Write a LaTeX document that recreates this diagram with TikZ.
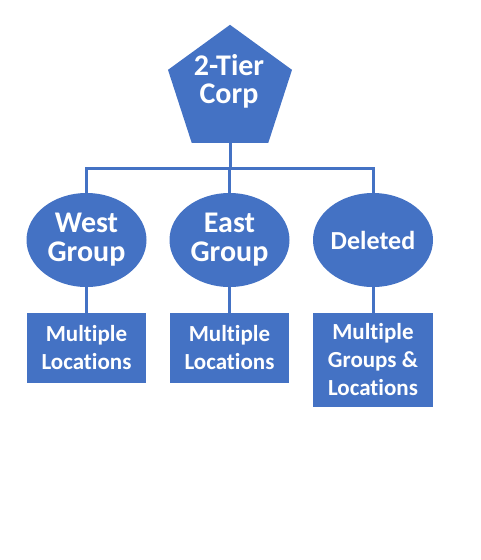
\documentclass[tikz,border=0pt]{standalone}
\usepackage{fontspec}
\setmainfont[Ligatures={NoCommon}]{Carlito}
\usetikzlibrary{shapes.geometric}
\definecolor{obl}{HTML}{4472C4}
\tikzset{
  conn/.style={draw=obl, line width=3pt},
  txt/.style={text=white, font=\bfseries, align=center, inner sep=0pt},
  grp/.style={ellipse, fill=obl, minimum width=120pt, minimum height=94pt, inner sep=0pt, txt},
  loc/.style={rectangle, fill=obl, minimum width=119pt, inner sep=0pt, txt,
    font=\fontsize{23pt}{28pt}\selectfont\bfseries},
  big/.style={font=\fontsize{30pt}{29pt}\selectfont\bfseries}
}
\begin{document}
\begin{tikzpicture}[x=1pt,y=-1pt]
\useasboundingbox (0,0) rectangle (480,560);
\node[regular polygon, regular polygon sides=5, fill=obl, minimum size=130.4pt, inner sep=0pt] (corp) at (230,90) {};
\node[txt, font=\fontsize{30pt}{28pt}\selectfont\bfseries] (corptxt) at (229,81) {2-Tier\\Corp};
\node[grp, big] (west) at (86.5,240) {West\\Group};
\node[grp, big] (east) at (229.5,240) {East\\Group};
\node[grp, font=\fontsize{26pt}{28pt}\selectfont\bfseries] (del) at (373,240) {Deleted};
\node[loc, minimum height=70pt] (wbox) at (86.5,348) {Multiple\\Locations};
\node[loc, minimum height=70pt] (ebox) at (229.5,348) {Multiple\\Locations};
\node[loc, minimum width=120pt, minimum height=94pt] (dbox) at (373,360) {Multiple\\Groups \&\\Locations};
\coordinate (bus) at (230,168);
\draw[conn] (corp.south) -- (bus);
\draw[conn] (west.north) |- (bus) -| (del.north);
\draw[conn] (east.north) -- (east.north |- bus);
\draw[conn] (west.south) -- (wbox.north);
\draw[conn] (east.south) -- (ebox.north);
\draw[conn] (del.south) -- (dbox.north);
\end{tikzpicture}
\end{document}
